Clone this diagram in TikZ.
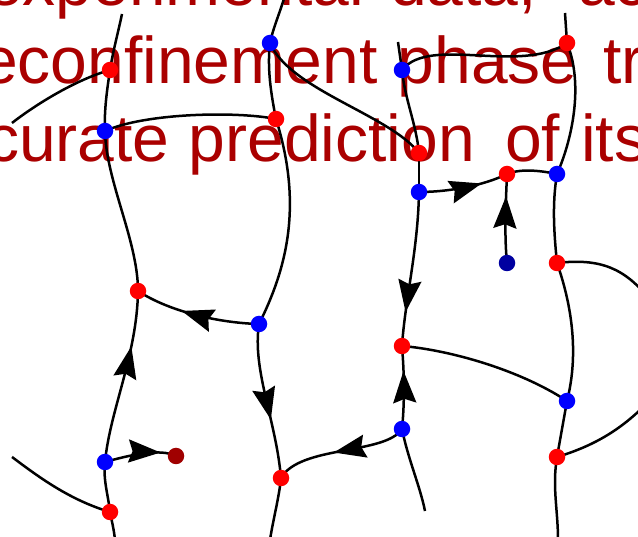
\documentclass[tikz,border=0pt]{standalone}
\usepackage{fontspec}
\setmainfont{Liberation Sans}
\usetikzlibrary{arrows.meta,decorations.markings}
\definecolor{txtred}{HTML}{AA0000}
\definecolor{dotred}{HTML}{FF0000}
\definecolor{dotblue}{HTML}{0000FF}
\definecolor{darkdotblue}{HTML}{0000A0}
\definecolor{darkdotred}{HTML}{A00000}
\pgfdeclarelayer{textlayer}
\pgfdeclarelayer{wirelayer}
\pgfsetlayers{textlayer,wirelayer,main}
\tikzset{
  wire/.style={line width=2.5pt, black},
  bgtext/.style={anchor=base west, inner sep=0pt, text=txtred, font=\fontsize{66}{76}\selectfont},
  dot/.style={circle, inner sep=0pt, minimum size=16.5pt},
  rdot/.style={dot, fill=dotred},
  bdot/.style={dot, fill=dotblue},
  dbdot/.style={dot, fill=darkdotblue},
  drdot/.style={dot, fill=darkdotred},
  midarrow/.style={postaction={decorate}, decoration={markings, mark=at position #1 with {\arrow{Stealth[length=32pt,width=23pt,inset=4pt]}}}}
}
\begin{document}
\begin{tikzpicture}[x=1pt,y=-1pt]
\useasboundingbox (0,0) rectangle (638,537);
% dots
\node[rdot] (r1) at (110,70) {};
\node[rdot] (r2) at (276,119) {};
\node[rdot] (r3) at (567,43) {};
\node[rdot] (r4) at (419,153) {};
\node[rdot] (r5) at (507,174) {};
\node[rdot] (r6) at (138,291) {};
\node[rdot] (r7) at (557,263) {};
\node[rdot] (r8) at (402,346) {};
\node[rdot] (r9) at (110,512) {};
\node[rdot] (r10) at (281,478) {};
\node[rdot] (r11) at (557,457) {};
\node[bdot] (b1) at (270,43) {};
\node[bdot] (b2) at (402,70) {};
\node[bdot] (b3) at (105,131) {};
\node[bdot] (b4) at (419,192) {};
\node[bdot] (b5) at (557,174) {};
\node[bdot] (b6) at (259,324) {};
\node[bdot] (b7) at (105,462) {};
\node[bdot] (b8) at (402,429) {};
\node[bdot] (b9) at (567,401) {};
\node[dbdot] (db) at (507,263) {};
\node[drdot] (dr) at (176,456) {};
% free ends
\coordinate (e1) at (122,14);
\coordinate (e2) at (12,123);
\coordinate (e3) at (285,-5);
\coordinate (e4) at (398,42);
\coordinate (e5) at (565,13);
\coordinate (e6) at (115,540);
\coordinate (e7) at (270,540);
\coordinate (e8) at (425,511);
\coordinate (e9) at (558,540);
\coordinate (e10) at (12,457);
\coordinate (e11) at (650,300);
\coordinate (e12) at (650,400);
\begin{pgfonlayer}{textlayer}
\begin{scope}
\clip (0,0) rectangle (638,537);
\fill[white] (0,0) rectangle (638,537);
\node[bgtext] (t1a) at (-14,6) {experimental};
\node[bgtext] (t1b) at (390,6) {data,};
\node[bgtext] (t1c) at (578,6) {ac};
\node[bgtext] (t2a) at (-19,84) {econfinement};
\node[bgtext] (t2b) at (397.5,84) {phase};
\node[bgtext] (t2c) at (603,84) {tr};
\node[bgtext] (t3a) at (-14,162) {curate};
\node[bgtext] (t3b) at (188.5,162) {prediction};
\node[bgtext] (t3c) at (505,162) {of};
\node[bgtext] (t3d) at (581,162) {its};
\end{scope}
\end{pgfonlayer}
\begin{pgfonlayer}{wirelayer}
\begin{scope}
\clip (0,0) rectangle (638,537);
% column 1
\draw[wire] (e1) .. controls +(-4,19) and +(3,-19) .. (r1.center)
  .. controls +(-3,20) and +(-1,-20) .. (b3.center)
  .. controls +(1,50) and +(0,-50) .. (r6.center);
\draw[wire, midarrow=0.68] (b7.center) .. controls +(5,-52) and +(-1,64) .. (r6.center);
\draw[wire] (b7.center) .. controls +(-2,18) and +(-2,-18) .. (r9.center)
  .. controls +(2,10) and +(-1,-10) .. (e6);
\draw[wire] (e2) .. controls +(23,-18) and +(-35,10) .. (r1.center);
\draw[wire] (b3.center) .. controls +(40,-18) and +(-40,-8) .. (r2.center);
\draw[wire] (e10) .. controls +(28,21) and +(-40,-12) .. (r9.center);
\draw[wire, midarrow=0.78] (b7.center) .. controls +(25,-7) and +(-16,-8) .. (dr.center);
% column 2
\draw[wire] (e3) .. controls +(-4,15) and +(3,-15) .. (b1.center)
  .. controls +(-3,25) and +(-5,-25) .. (r2.center)
  .. controls +(27,86) and +(28,-56) .. (b6.center);
\draw[wire, midarrow=0.62] (b6.center) .. controls +(-7,46) and +(-5,-58) .. (r10.center);
\draw[wire] (r10.center) .. controls +(-2,20) and +(3,-20) .. (e7);
\draw[wire, midarrow=0.55] (b8.center) .. controls +(-17,26) and +(19,-33) .. (r10.center);
\draw[wire, midarrow=0.62] (b6.center) .. controls +(-39,-1) and +(32,21) .. (r6.center);
\draw[wire] (b1.center) .. controls +(20,47) and +(-29,-38) .. (r4.center);
\draw[wire] (b2.center) .. controls +(28,-35) and +(-47,32) .. (r3.center);
% column 3
\draw[wire] (e4) -- (b2.center);
\draw[wire] (b2.center) .. controls +(3,30) and +(-3,-30) .. (r4.center);
\draw[wire] (r4.center) -- (b4.center);
\draw[wire, midarrow=0.78] (b4.center) .. controls +(-1,58) and +(3,-46) .. (r8.center);
\draw[wire, midarrow=0.7] (b8.center) .. controls +(3,-30) and +(2,25) .. (r8.center);
\draw[wire] (b8.center) .. controls +(6,30) and +(-5,-25) .. (e8);
\draw[wire, midarrow=0.7] (b4.center) .. controls +(31,0) and +(-22,11) .. (r5.center);
\draw[wire, midarrow=0.75] (db.center) .. controls +(-3,-30) and +(-1,25) .. (r5.center);
\draw[wire] (r5.center) .. controls +(15,-6) and +(-15,-3) .. (b5.center);
% column 4
\draw[wire] (e5) -- (r3.center);
\draw[wire] (r3.center) .. controls +(17,42) and +(15,-34) .. (b5.center);
\draw[wire] (b5.center) .. controls +(-5,30) and +(-3,-30) .. (r7.center);
\draw[wire] (r7.center) .. controls +(13,37) and +(13,-51) .. (b9.center);
\draw[wire] (b9.center) -- (r11.center);
\draw[wire] (r11.center) .. controls +(-5,30) and +(0,-30) .. (e9);
\draw[wire] (r8.center) .. controls +(48,4) and +(-47,-31) .. (b9.center);
\draw[wire] (r7.center) .. controls +(43,-5) and +(-25,-32) .. (e11);
\draw[wire] (r11.center) .. controls +(33,-10) and +(-30,32) .. (e12);
\end{scope}
\end{pgfonlayer}
\end{tikzpicture}
\end{document}
